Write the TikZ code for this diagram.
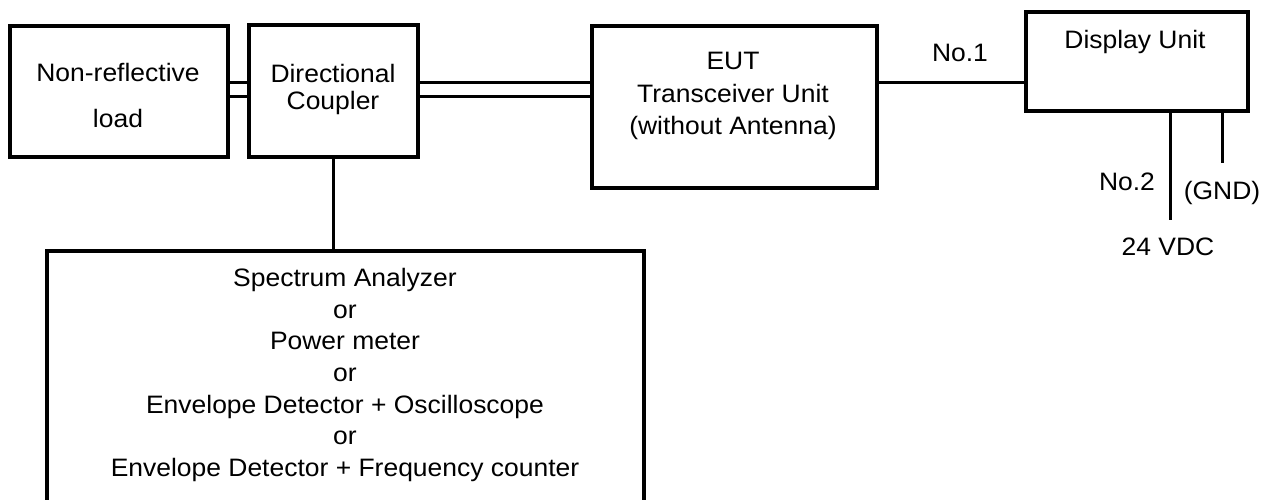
\documentclass[tikz,border=0pt]{standalone}
\usepackage{fontspec}
\setmainfont{Liberation Sans}[FakeStretch=1.05]
\usetikzlibrary{positioning}
\begin{document}
\begin{tikzpicture}[x=0.5pt,y=-0.5pt]
		\tikzstyle{every node}+=[inner sep=0pt]
		\tikzstyle{unit}=[draw=black,line width=2pt]
		\tikzstyle{wire}=[black,line width=1.5pt]
		\tikzstyle{txt}=[align=center,font=\fontsize{12.6}{15.8}\selectfont]
		\useasboundingbox (0,0) rectangle (1274,499);
		\node [unit,minimum width=109pt,minimum height=65.5pt] (load) at (119,91.5) {};
		\node [txt,font=\fontsize{12.6}{23}\selectfont] (loadtext) at (118,95) {Non-reflective\\load};
		\node [unit,minimum width=84.5pt,minimum height=66pt] (coupler) at (333.5,91) {};
		\node [txt,font=\fontsize{12.6}{13.5}\selectfont] (couplertext) at (333,89) {Directional\\Coupler};
		\node [unit,minimum width=142.5pt,minimum height=81pt] (eut) at (734.5,107) {};
		\node [txt,font=\fontsize{12.6}{16.2}\selectfont] (euttext) at (733,96) {EUT\\Transceiver Unit\\(without Antenna)};
		\node [unit,minimum width=111pt,minimum height=49.5pt] (display) at (1137,61.5) {};
		\node [txt] (displaytext) at (1135,42) {Display Unit};
		\node [unit,minimum width=298.5pt,minimum height=135pt] (analyzer) at (345.5,386) {};
		\node [txt] (analyzertext) at (345,375) {Spectrum Analyzer\\or\\Power meter\\or\\Envelope Detector + Oscilloscope\\or\\Envelope Detector + Frequency counter};
		\coordinate (rfhi) at (0,82);
		\coordinate (rflo) at (0,96);
		\coordinate (vdcend) at (1170,220);
		\coordinate (gndend) at (1222,163);
		\draw [wire] (load.east |- rfhi) -- (coupler.west |- rfhi);
		\draw [wire] (load.east |- rflo) -- (coupler.west |- rflo);
		\draw [wire] (coupler.east |- rfhi) -- (eut.west |- rfhi);
		\draw [wire] (coupler.east |- rflo) -- (eut.west |- rflo);
		\draw [wire] (eut.east |- rfhi) -- (display.west |- rfhi);
		\draw [wire] (coupler.south) -- (coupler.south |- analyzer.north);
		\draw [wire] (display.south -| vdcend) -- (vdcend);
		\draw [wire] (display.south -| gndend) -- (gndend);
		\node [txt] (no1) at (960,53) {No.1};
		\node [txt] (no2) at (1127,182) {No.2};
		\node [txt] (gnd) at (1222,193) {(GND)};
		\node [txt] (vdc) at (1168,247) {24 VDC};
\end{tikzpicture}
\end{document}
